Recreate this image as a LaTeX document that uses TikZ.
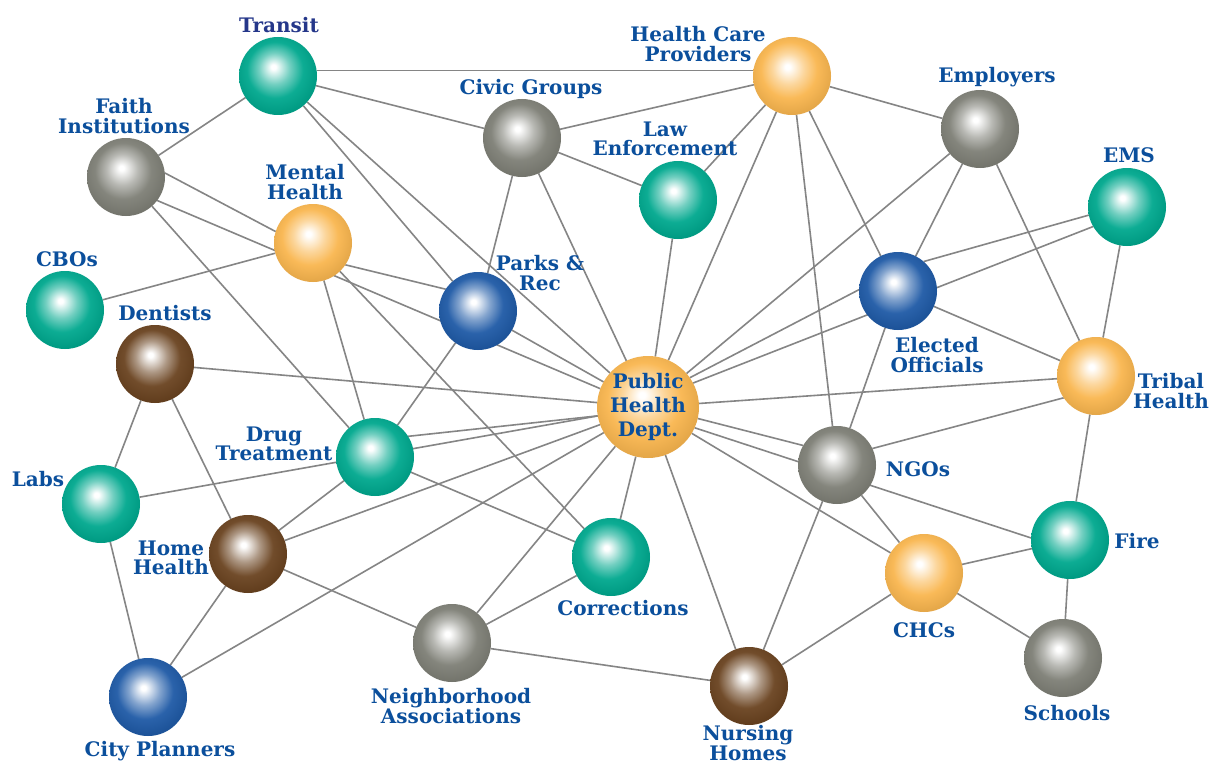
\documentclass[tikz,border=0pt]{standalone}
\usepackage{fontspec}
\setmainfont{DejaVu Serif}
\definecolor{cteal}{HTML}{00A88E}
\definecolor{cgray}{HTML}{7E7F76}
\definecolor{corange}{HTML}{F9B64F}
\definecolor{cblue}{HTML}{1F5AA6}
\definecolor{cbrown}{HTML}{6A4320}
\definecolor{labblue}{HTML}{0B4F9C}
\definecolor{navy}{HTML}{25378A}
\definecolor{edgegray}{HTML}{858585}
\newcommand\mkball[2]{\pgfdeclareradialshading{#1}{\pgfpoint{-3bp}{6bp}}{%
 color(0bp)=(white); color(1.5bp)=(white); color(10bp)=(#2!55!white);
 color(18bp)=(#2!95!white); color(27bp)=(#2!92!black); color(50bp)=(#2!85!black)}}
\mkball{tealball}{cteal}
\mkball{grayball}{cgray}
\mkball{orangeball}{corange}
\mkball{blueball}{cblue}
\mkball{brownball}{cbrown}
\pgfdeclarelayer{bg}
\pgfdeclarelayer{edges}
\pgfsetlayers{bg,edges,main}
\tikzset{
 sph/.style={circle,minimum size=78pt,inner sep=0pt,outer sep=0pt},
 teal/.style={sph,shading=tealball},
 grey/.style={sph,shading=grayball},
 orng/.style={sph,shading=orangeball},
 blu/.style={sph,shading=blueball},
 brwn/.style={sph,shading=brownball},
 lab/.style={align=center,inner sep=0pt,text=labblue,font=\bfseries\fontsize{20}{19.5}\selectfont},
 link/.style={draw=edgegray,line width=1.6pt}
}
\begin{document}
\begin{tikzpicture}[x=1pt,y=-1pt]
\begin{pgfonlayer}{bg}
\fill[white] (0,0) rectangle (1209,765);
\end{pgfonlayer}
\useasboundingbox (0,0) rectangle (1209,765);
% spheres
\node[teal] (transit) at (278,76) {};
\node[grey] (faith) at (126,177) {};
\node[orng] (mh) at (313,243) {};
\node[teal] (cbos) at (65,310) {};
\node[brwn] (dent) at (155,364) {};
\node[grey] (civic) at (522,138) {};
\node[orng] (hcp) at (792,76) {};
\node[teal] (le) at (678,200) {};
\node[blu] (parks) at (478,311) {};
\node[grey] (emp) at (980,129) {};
\node[teal] (ems) at (1127,207) {};
\node[blu] (elec) at (898,291) {};
\node[orng] (trib) at (1096,376) {};
\node[orng,minimum size=102pt,align=center,text=labblue,font=\bfseries\fontsize{20}{24}\selectfont] (phd) at (648,407) {Public\\Health\\Dept.};
\node[teal] (drug) at (375,457) {};
\node[teal] (labs) at (101,504) {};
\node[brwn] (hh) at (248,554) {};
\node[blu] (cp) at (148,697) {};
\node[teal] (corr) at (611,557) {};
\node[grey] (neigh) at (452,643) {};
\node[brwn] (nurs) at (749,686) {};
\node[grey] (ngo) at (837,465) {};
\node[orng] (chc) at (924,573) {};
\node[teal] (fire) at (1070,540) {};
\node[grey] (sch) at (1063,658) {};
% labels
\node[lab,text=navy] (lTransit) at (279,25) {Transit};
\node[lab] (lFaith) at (124,116) {Faith\\Institutions};
\node[lab] (lMH) at (305,182) {Mental\\Health};
\node[lab] (lCBO) at (67,259) {CBOs};
\node[lab] (lDent) at (165,313) {Dentists};
\node[lab] (lCivic) at (531,89) {Civic Groups};
\node[lab] (lHCP) at (698,44) {Health Care\\Providers};
\node[lab] (lLE) at (665,139) {Law\\Enforcement};
\node[lab] (lParks) at (540,273) {Parks \&\\Rec};
\node[lab] (lEmp) at (997,77) {Employers};
\node[lab] (lEMS) at (1129,155) {EMS};
\node[lab] (lElec) at (937,355) {Elected\\Officials};
\node[lab] (lTrib) at (1171,391) {Tribal\\Health};
\node[lab] (lDrug) at (274,444) {Drug\\Treatment};
\node[lab] (lLabs) at (38,479) {Labs};
\node[lab] (lHH) at (171,558) {Home\\Health};
\node[lab] (lCP) at (160,751) {City Planners};
\node[lab] (lCorr) at (623,608) {Corrections};
\node[lab] (lNeigh) at (451,706) {Neighborhood\\Associations};
\node[lab] (lNurs) at (748,743) {Nursing\\Homes};
\node[lab] (lNGO) at (918,469) {NGOs};
\node[lab] (lCHC) at (924,630) {CHCs};
\node[lab] (lFire) at (1137,541) {Fire};
\node[lab] (lSch) at (1067,713) {Schools};
% connectors
\begin{pgfonlayer}{edges}
\draw[link] (transit) -- (faith);
\draw[link] (transit.8) -- (hcp.172);
\draw[link] (transit) -- (civic);
\draw[link] (transit) -- (phd);
\draw[link] (transit) -- (parks);
\draw[link] (faith.6) -- (mh.163);
\draw[link] (faith.-37) -- (phd.159);
\draw[link] (faith) -- (drug);
\draw[link] (cbos) -- (mh);
\draw[link] (mh.-34) -- (parks.146);
\draw[link] (mh) -- (drug);
\draw[link] (mh) -- (corr);
\draw[link] (civic) -- (hcp);
\draw[link] (civic) -- (le);
\draw[link] (civic) -- (parks);
\draw[link] (civic) -- (phd);
\draw[link] (hcp) -- (le);
\draw[link] (hcp) -- (phd);
\draw[link] (hcp) -- (emp);
\draw[link] (hcp) -- (elec);
\draw[link] (hcp) -- (ngo);
\draw[link] (le) -- (phd);
\draw[link] (parks) -- (phd);
\draw[link] (parks) -- (drug);
\draw[link] (emp.219) -- (phd.41);
\draw[link] (emp) -- (elec);
\draw[link] (emp) -- (trib);
\draw[link] (ems.192) -- (elec.49);
\draw[link] (ems.210) -- (phd.28);
\draw[link] (ems) -- (trib);
\draw[link] (elec.178) -- (phd.35);
\draw[link] (elec) -- (trib);
\draw[link] (elec) -- (ngo);
\draw[link] (trib) -- (phd);
\draw[link] (trib.214) -- (ngo.25);
\draw[link] (trib) -- (fire);
\draw[link] (dent) -- (labs);
\draw[link] (dent) -- (hh);
\draw[link] (dent) -- (phd);
\draw[link] (labs) -- (phd);
\draw[link] (labs) -- (cp);
\draw[link] (drug.32) -- (phd.190);
\draw[link] (drug) -- (hh);
\draw[link] (drug) -- (corr);
\draw[link] (hh) -- (phd);
\draw[link] (hh) -- (cp);
\draw[link] (hh) -- (neigh);
\draw[link] (cp) -- (phd);
\draw[link] (neigh) -- (phd);
\draw[link] (neigh) -- (corr);
\draw[link] (neigh) -- (nurs);
\draw[link] (corr) -- (phd);
\draw[link] (nurs) -- (phd);
\draw[link] (nurs) -- (ngo);
\draw[link] (nurs) -- (chc);
\draw[link] (ngo.150) -- (phd.-13);
\draw[link] (phd.-24) -- (fire.177);
\draw[link] (phd) -- (chc);
\draw[link] (ngo) -- (chc);
\draw[link] (chc) -- (fire);
\draw[link] (chc) -- (sch);
\draw[link] (fire) -- (sch);
\end{pgfonlayer}
\end{tikzpicture}
\end{document}
